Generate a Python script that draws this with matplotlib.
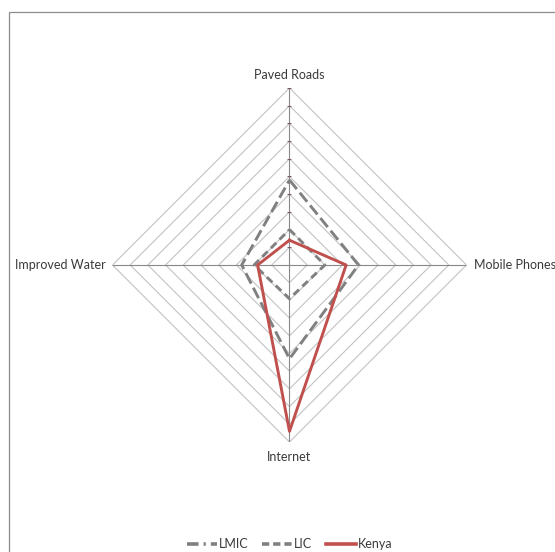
import numpy as np
import matplotlib
matplotlib.use("Agg")
import matplotlib.pyplot as plt
from matplotlib.patches import Rectangle
from matplotlib.lines import Line2D

plt.rcParams['font.family'] = ['Lato', 'DejaVu Sans']

categories = ["Paved Roads", "Mobile Phones", "Internet", "Improved Water"]
lmic = [48, 39, 53, 27]
lic = [20, 20, 19, 20]
kenya = [14, 32, 94, 18]
rings = [10, 20, 30, 40, 50, 60, 70, 80, 90, 100]

grid_col = '#c3c3c3'
spoke_col = '#888888'
series_gray = '#808080'
kenya_col = '#c0504d'
text_col = '#3a3a3a'

fig = plt.figure(figsize=(5.55, 5.52), dpi=100)
# outer chart frame, running off the right and bottom edges
fig.patches.append(Rectangle((8.5, -10), 600, 552 - 11.5 + 10, transform=None,
                             fill=False, edgecolor='#8c8c8c', lw=0.9))

ax = fig.add_axes([0.2027, 0.1993, 0.6378, 0.6413], projection='polar')
ax.set_theta_offset(np.pi / 2)
ax.set_theta_direction(-1)
ax.set_ylim(0, 100)
ax.grid(False)
ax.spines['polar'].set_visible(False)
ax.set_xticks([])
ax.set_yticks([])
ax.patch.set_alpha(0)

theta = np.linspace(0, 2 * np.pi, len(categories), endpoint=False)
closed = np.append(theta, theta[0])

def close(vals):
    return list(vals) + [vals[0]]

# diamond gridlines
for r in rings:
    ax.plot(closed, [r] * len(closed), color=grid_col, lw=0.8, zorder=1)
# spokes
for t in theta:
    ax.plot([t, t], [0, 100], color=spoke_col, lw=0.8, zorder=2)
# tick marks on the top spoke
ax.plot([0] * len(rings), rings, ls='none', marker='_', ms=2.5, mew=0.7,
        color='#7a5a6a', zorder=2)

ax.plot(closed, close(lmic), color=series_gray, lw=2.1, ls=(0, (4, 1.6)), zorder=3)
ax.plot(closed, close(lic), color=series_gray, lw=2.1, ls=(0, (2.6, 1.6)), zorder=3)
ax.plot(closed, close(kenya), color=kenya_col, lw=2.1, zorder=4)

# category labels
ax.text(theta[0], 104, categories[0], ha='center', va='bottom', fontsize=9, color=text_col)
ax.text(theta[1], 104, categories[1], ha='left', va='center', fontsize=9, color=text_col)
ax.text(theta[2], 105, categories[2], ha='center', va='top', fontsize=9, color=text_col)
ax.text(theta[3], 104, categories[3], ha='right', va='center', fontsize=9, color=text_col)

handles = [
    Line2D([], [], color=series_gray, lw=2.6, ls=(0, (3.2, 1.4, 0.6, 1.4))),
    Line2D([], [], color=series_gray, lw=2.6, ls=(0, (2.0, 1.1))),
    Line2D([], [], color=kenya_col, lw=2.6),
]
fig.legend(handles, ["LMIC", "LIC", "Kenya"], loc='center', ncol=3,
           bbox_to_anchor=(0.522, 1 - 544 / 552), frameon=False, fontsize=9,
           labelcolor=text_col, handlelength=2.4, handletextpad=0.15,
           columnspacing=1.1, borderpad=0.1)

fig.savefig("out.png", dpi=100)
